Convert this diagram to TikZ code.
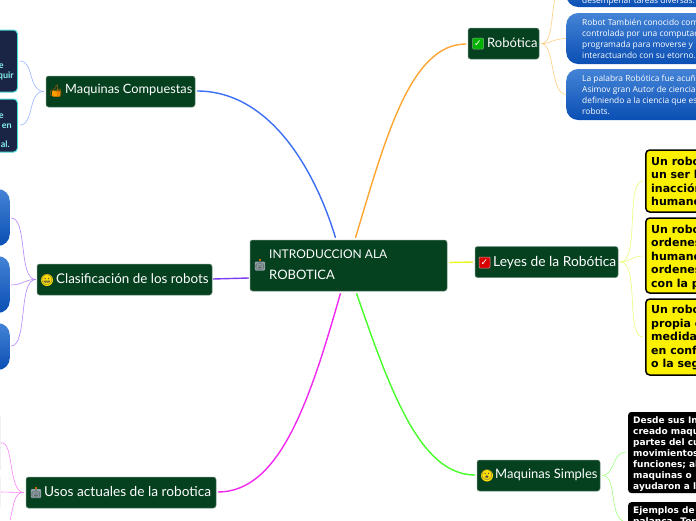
\documentclass[tikz,border=0pt]{standalone}
\usepackage{fontspec}
\setmainfont{Lato}
\newfontfamily\boldface{DejaVu Sans}
\newfontfamily\bluefont{Open Sans}
\newfontfamily\emojifont{Noto Emoji}
\usetikzlibrary{positioning}
\definecolor{topicgreen}{HTML}{05401F}
\definecolor{navybox}{HTML}{1A2444}
\definecolor{tealline}{HTML}{48DDD8}
\definecolor{tealtext}{HTML}{86F2EE}
\definecolor{lawyellow}{HTML}{FAF000}
\definecolor{bluetop}{HTML}{4483D6}
\definecolor{bluebottom}{HTML}{0A4FB4}
\definecolor{robotgray}{HTML}{8FA3A8}
\tikzset{topic/.style={draw=topicgreen!60!white,line width=.5pt,fill=topicgreen,rounded corners=2.5pt,inner sep=0pt},
topictext/.style={text=white,anchor=west,inner sep=0pt,font=\fontsize{#1}{16}\selectfont},
bluebox/.style={rounded corners=12pt,top color=bluetop,bottom color=bluebottom,draw=none,text=white,inner sep=0pt},
lawbox/.style={draw=black,line width=1.5pt,fill=lawyellow,rounded corners=4pt,inner sep=0pt},
blackbox/.style={fill=black,rounded corners=3pt,inner sep=0pt},
navy/.style={draw=tealline,line width=1pt,fill=navybox,rounded corners=4pt,inner sep=0pt},
faintbox/.style={fill=black!6,inner sep=0pt,minimum width=1pt,anchor=east},
lawtext/.style={anchor=north west,align=left,inner sep=0pt,font=\boldface\bfseries\fontsize{11}{13.5}\selectfont},
blacktext/.style={anchor=north west,align=left,inner sep=0pt,text=white,font=\boldface\bfseries\fontsize{9}{11}\selectfont},
bluetext/.style={anchor=north west,align=left,inner sep=0pt,text=white,font=\bluefont\fontsize{8.4}{11}\selectfont},
navytext/.style={anchor=east,inner sep=0pt,text=tealtext,font=\bfseries\fontsize{9}{11}\selectfont},
face/.style={circle,fill=#1,inner sep=0pt,minimum size=12pt},
glyph/.style={inner sep=0pt,font=\emojifont\fontsize{#1}{#1}\selectfont},
checkbox/.style={rectangle,fill=#1,draw=white!70!#1,line width=.5pt,inner sep=0pt,minimum size=11pt,rounded corners=1pt,text=white,font=\boldface\fontsize{9}{9}\selectfont},
robotbox/.style={rectangle,fill=robotgray,inner sep=0pt,minimum width=10pt,minimum height=9pt,rounded corners=1pt,text=black!70,font=\emojifont\fontsize{8}{8}\selectfont},
antenna/.style={rectangle,fill=orange!80!black,inner sep=0pt,minimum width=2pt,minimum height=2pt,anchor=south},
fat/.style={line width=1.4pt},
thin/.style={line width=.6pt}}
\begin{document}
\begin{tikzpicture}[x=1pt,y=-1pt]
\useasboundingbox (0,0) rectangle (696,520);
\clip (0,0) rectangle (696,520);
% main and topics
\node[topic,minimum width=197pt,minimum height=51pt] (main) at (348.5,265.5) {};
\node[topic,minimum width=149pt,minimum height=31pt] (compuestas) at (120.5,91.5) {};
\node[topic,minimum width=175pt,minimum height=31pt] (clasif) at (124.5,279.5) {};
\node[topic,minimum width=190pt,minimum height=31pt] (usos) at (121,492.5) {};
\node[topic,minimum width=71pt,minimum height=31pt] (robotica) at (503.5,43.5) {};
\node[topic,minimum width=143pt,minimum height=31pt] (leyes) at (546.5,262) {};
\node[topic,minimum width=123pt,minimum height=31pt] (simples) at (538.5,475.5) {};
\node[text=white,anchor=west,align=left,inner sep=0pt,font=\fontsize{12}{21}\selectfont] (maintext) at (269,264.5) {INTRODUCCION ALA\\{\fontsize{13}{21}\selectfont ROBOTICA}};
\node[topictext=12.8] (t1) at (65,90) {Maquinas Compuestas};
\node[topictext=13.4] (t2) at (56,278.5) {Clasificación de los robots};
\node[topictext=13.7] (t3) at (44,491.5) {Usos actuales de la robotica};
\node[topictext=13] (t4) at (487,43) {Robótica};
\node[topictext=13.8] (t5) at (493,263) {Leyes de la Robótica};
\node[topictext=13] (t6) at (495,475) {Maquinas Simples};
% icons
\node[robotbox] (i0) at (260,266) {🤖};
\node[antenna] at (i0.north) {};
\node[robotbox] (i1) at (36,493.5) {🤖};
\node[antenna] at (i1.north) {};
\node[checkbox=green!70!black] (i2) at (478,43.5) {✓};
\node[checkbox=red!85!black] (i3) at (484.5,262.5) {✓};
\node[face=yellow!80!orange] (i4) at (47,280) {};
\node[glyph=10,text=black!70] at (i4) {😀};
\node[face=yellow!80!orange] (i5) at (487,475.5) {};
\node[glyph=10,text=black!70] at (i5) {😮};
\node[fill=orange!75!yellow,inner sep=0pt,minimum width=8pt,minimum height=6pt,rounded corners=1pt] (i6b) at (56,93.5) {};
\node[glyph=12,text=orange!85!black] (i6) at (56,91) {👍};
% outer boxes
\node[navy,minimum width=38pt,minimum height=62pt,anchor=east] (n1) at (18,61) {};
\node[navy,minimum width=38pt,minimum height=53pt,anchor=east] (n2) at (18,125.5) {};
\node[navytext] (n1a) at (4,66) {e};
\node[navytext] (n1b) at (14,75.5) {quir};
\node[navytext] (n2a) at (4,116) {e};
\node[navytext] (n2b) at (12,126) {en};
\node[navytext] (n2c) at (10,144.5) {al.};
\node[bluebox,minimum width=40pt,minimum height=57pt,anchor=east] (c1) at (10,217.5) {};
\node[bluebox,minimum width=40pt,minimum height=57pt,anchor=east] (c2) at (10,284.5) {};
\node[bluebox,minimum width=40pt,minimum height=47pt,anchor=east] (c3) at (10,346.5) {};
\node[faintbox,minimum height=54pt] (u1) at (1,443) {};
\node[faintbox,minimum height=30pt] (u2) at (1,492) {};
\node[bluebox,minimum width=160pt,minimum height=40pt,anchor=west] (r1) at (566,-13) {};
\node[bluebox,minimum width=160pt,minimum height=51pt,anchor=west] (r2) at (566,38.5) {};
\node[bluebox,minimum width=160pt,minimum height=51pt,anchor=west] (r3) at (566,94.5) {};
\node[bluetext] (r1t) at (582,-3.5) {desempeñar tareas diversas.};
\node[bluetext] (r2t) at (582,19) {Robot También conocido como\\controlada por una computadora\\programada para moverse y\\interactuando con su etorno.};
\node[bluetext] (r3t) at (582,75) {La palabra Robótica fue acuñada\\Asimov gran Autor de ciencia ficción\\definiendo a la  ciencia que estudia\\robots.};
\node[lawbox,minimum width=80pt,minimum height=62pt,anchor=west] (l1) at (645,181) {};
\node[lawbox,minimum width=80pt,minimum height=75pt,anchor=west] (l2) at (645,255.5) {};
\node[lawbox,minimum width=80pt,minimum height=76pt,anchor=west] (l3) at (645,337) {};
\node[lawtext] (l1t) at (651,156.5) {Un robot\\un ser humano\\inacción\\humano};
\node[lawtext] (l2t) at (651,224.5) {Un robot\\ordenes\\humano\\ordenes\\con la protección};
\node[lawtext] (l3t) at (651,305) {Un robot\\propia existencia\\medida\\en conflicto\\o la seguridad};
\node[blackbox,minimum width=90pt,minimum height=81pt,anchor=west] (b1) at (628,452.5) {};
\node[blackbox,minimum width=90pt,minimum height=40pt,anchor=north west] (b2) at (628,502) {};
\node[blacktext] (b1t) at (633,416) {Desde sus Inicios\\creado maquinas\\partes del cuerpo\\movimientos\\funciones; algunas\\maquinas o\\ayudaron a la};
\node[blacktext] (b2t) at (633,506) {Ejemplos de\\palanca. Tornillo};
\coordinate (u3) at (10,520);
% connectors
\draw[fat,color={rgb,255:red,60;green,110;blue,245}] (main.north) ++(-13,-2) .. controls (315,170) and (270,91) .. (197,91);
\draw[fat,color={rgb,255:red,255;green,165;blue,50}] (main.north) ++(7,-2) .. controls (385,140) and (410,44) .. (466,44);
\draw[fat,color={rgb,255:red,235;green,245;blue,30}] (main.east) ++(2,-3) -- (473,262);
\draw[fat,color={rgb,255:red,70;green,255;blue,40}] (main.south) ++(8,2) .. controls (390,390) and (420,475) .. (475,475);
\draw[fat,color={rgb,255:red,240;green,40;blue,240}] (main.south) ++(-8,2) .. controls (310,400) and (280,492) .. (218,492);
\draw[fat,color={rgb,255:red,125;green,60;blue,240}] (main.west) ++(-1,12.5) -- (213,279);
\draw[thin,color={rgb,255:red,150;green,180;blue,255}] (compuestas.west) ++(-2,0) .. controls (28,91) and (34,61) .. (20,61);
\draw[thin,color={rgb,255:red,150;green,180;blue,255}] (compuestas.west) ++(-2,0) .. controls (28,91) and (34,125) .. (20,125);
\draw[thin,color={rgb,255:red,180;green,130;blue,255}] (clasif.west) ++(-1,0) .. controls (18,279) and (28,218) .. (11,218);
\draw[thin,color={rgb,255:red,180;green,130;blue,255}] (clasif.west) ++(-1,0) .. controls (26,279) and (22,285) .. (11,285);
\draw[thin,color={rgb,255:red,180;green,130;blue,255}] (clasif.west) ++(-1,0) .. controls (18,279) and (28,346) .. (11,346);
\draw[thin,color={rgb,255:red,250;green,130;blue,250}] (usos.west) ++(-2,0) .. controls (8,492) and (14,440) .. (u1.east);
\draw[thin,color={rgb,255:red,250;green,130;blue,250}] (usos.west) ++(-2,0) -- (u2.east);
\draw[thin,color={rgb,255:red,250;green,130;blue,250}] (usos.west) ++(-2,0) .. controls (14,492) and (14,505) .. (u3);
\draw[thin,color={rgb,255:red,255;green,205;blue,130}] (robotica.east) ++(2,0) .. controls (555,44) and (550,0) .. (558,-6);
\draw[thin,color={rgb,255:red,255;green,205;blue,130}] (robotica.east) ++(2,0) .. controls (550,44) and (552,39) .. (r2.west);
\draw[thin,color={rgb,255:red,255;green,205;blue,130}] (robotica.east) ++(2,0) .. controls (555,44) and (550,94) .. (r3.west);
\draw[thin,color={rgb,255:red,235;green,250;blue,120}] (leyes.east) ++(2,0) .. controls (640,262) and (625,181) .. (643,181);
\draw[thin,color={rgb,255:red,235;green,250;blue,120}] (leyes.east) ++(2,0) .. controls (630,262) and (632,256) .. (643,256);
\draw[thin,color={rgb,255:red,235;green,250;blue,120}] (leyes.east) ++(2,0) .. controls (640,262) and (625,337) .. (643,337);
\draw[thin,color={rgb,255:red,160;green,255;blue,130}] (simples.east) ++(2,0) .. controls (615,475) and (612,452) .. (626,452);
\draw[thin,color={rgb,255:red,160;green,255;blue,130}] (simples.east) ++(2,0) .. controls (618,475) and (608,520) .. (626,522);
\end{tikzpicture}
\end{document}
